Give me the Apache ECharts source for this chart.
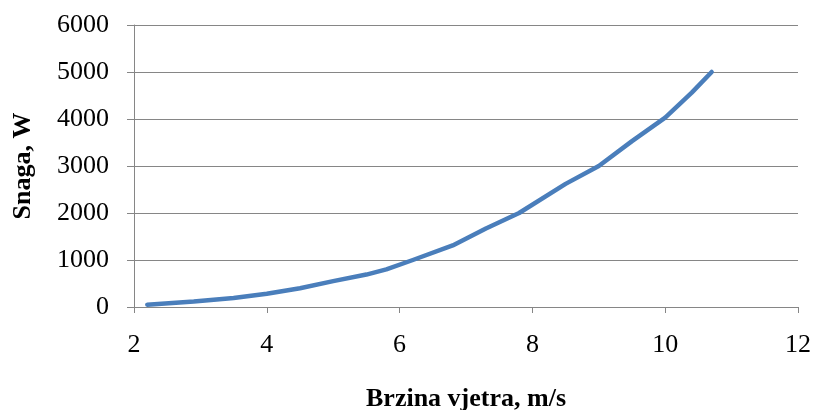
<!DOCTYPE html>
<html>
<head>
<meta charset="utf-8">
<script src="https://cdn.jsdelivr.net/npm/echarts@6/dist/echarts.min.js"></script>
<style>
  html, body { margin: 0; padding: 0; background: #ffffff; }
  #chart { width: 813px; height: 410px; }
</style>
</head>
<body>
<div id="chart"></div>
<script>
// Wind speed (m/s)
const windSpeed = [2.2, 2.9, 3.5, 4.0, 4.5, 5.0, 5.5, 5.8, 6.2, 6.8, 7.3, 7.8, 8.5, 9.0, 9.5, 10.0, 10.4, 10.7];
// Power (W)
const power = [50, 115, 190, 280, 400, 550, 690, 800, 1000, 1310, 1670, 2000, 2620, 3000, 3530, 4030, 4560, 5000];

const xTitle = 'Brzina vjetra, m/s';
const yTitle = 'Snaga, W';

const FONT = '"Liberation Serif", "Times New Roman", serif';
const GRAY = '#868686';

const chart = echarts.init(document.getElementById('chart'), null, { renderer: 'canvas' });
chart.setOption({
  backgroundColor: '#ffffff',
  animation: false,
  grid: { left: 134, right: 15, top: 25, bottom: 103, containLabel: false, outerBoundsMode: 'none' },
  xAxis: {
    type: 'value',
    min: 2, max: 12, interval: 2,
    name: xTitle,
    nameLocation: 'middle',
    nameGap: 79,
    nameTextStyle: { fontFamily: FONT, fontSize: 26, fontWeight: 'bold', color: '#000' },
    axisLine: { show: true, lineStyle: { color: GRAY, width: 1 } },
    axisTick: { show: true, length: 6, inside: false, lineStyle: { color: GRAY } },
    axisLabel: { fontFamily: FONT, fontSize: 26, color: '#000', margin: 25 },
    splitLine: { show: false }
  },
  yAxis: {
    type: 'value',
    min: 0, max: 6000, interval: 1000,
    name: yTitle,
    nameLocation: 'middle',
    nameGap: 98,
    nameRotate: 90,
    nameTextStyle: { fontFamily: FONT, fontSize: 26, fontWeight: 'bold', color: '#000' },
    axisLine: { show: true, lineStyle: { color: GRAY, width: 1 } },
    axisTick: { show: true, length: 7, inside: false, lineStyle: { color: GRAY } },
    axisLabel: { fontFamily: FONT, fontSize: 26, color: '#000', margin: 25,
      formatter: v => String(v) },
    splitLine: { show: true, lineStyle: { color: GRAY, width: 1 } }
  },
  series: [{
    type: 'line',
    data: windSpeed.map((x, i) => [x, power[i]]),
    showSymbol: false,
    smooth: false,
    lineStyle: { color: '#4A7EBB', width: 4.5, cap: 'round', join: 'round' },
    itemStyle: { color: '#4A7EBB' }
  }]
});
</script>
</body>
</html>
